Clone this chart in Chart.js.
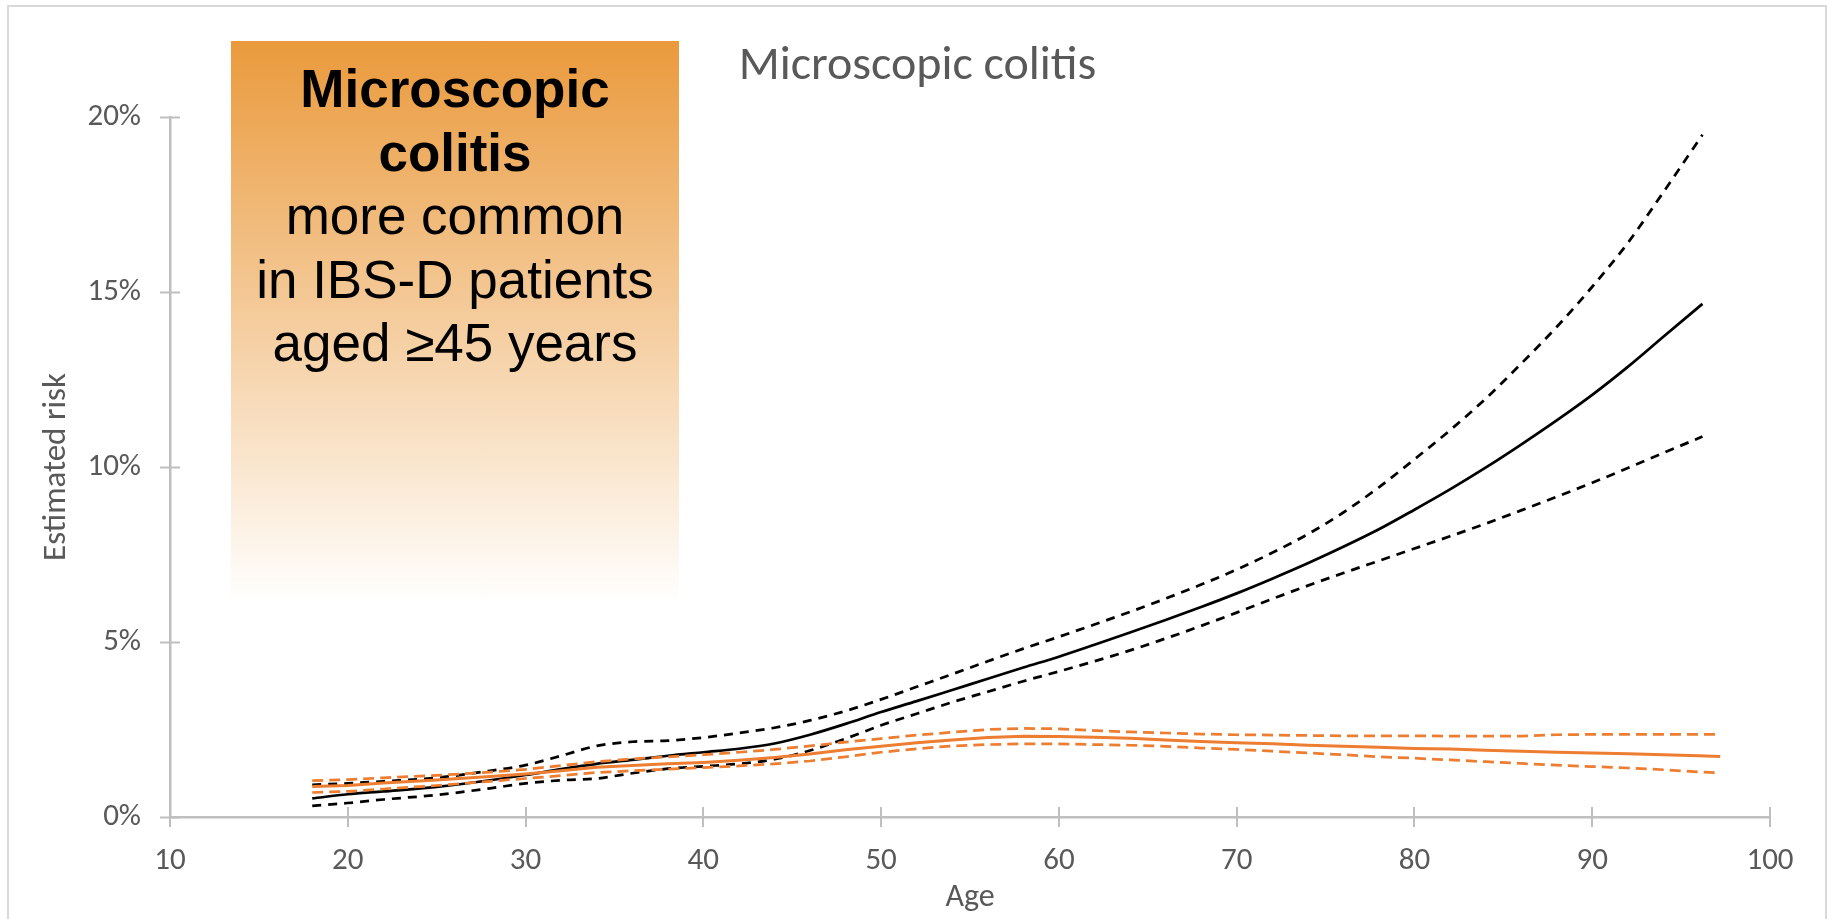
<!DOCTYPE html>
<html>
<head>
<meta charset="utf-8">
<script src="https://cdn.jsdelivr.net/npm/chart.js@4/dist/chart.umd.min.js"></script>
<style>
  html, body { margin: 0; padding: 0; background: #ffffff; }
  #wrap { position: relative; width: 1835px; height: 919px; overflow: hidden; background: #ffffff; }
  #frame { position: absolute; left: 7px; top: 5px; width: 1820px; height: 940px; border: 2px solid #D9D9D9; box-sizing: border-box; }
  #c { position: absolute; left: 0; top: 0; }
  #callout {
    position: absolute; left: 231px; top: 41px; width: 448px; height: 562px;
    background: linear-gradient(to bottom, rgb(234,154,60) 0%, rgba(255,255,255,1) 100%);
    box-sizing: border-box; padding-top: 16px;
    font-family: "Liberation Sans", Arial, sans-serif; font-size: 53px; line-height: 63.5px;
    color: #000000; text-align: center;
  }
  #callout .bold { font-weight: bold; }
</style>
</head>
<body>
<div id="wrap">
  <div id="frame"></div>
  <canvas id="c" width="1835" height="919"></canvas>
  <div id="callout"></div>
</div>
<script>
// Ages at which the IBS-D (black) and control (orange) curves are sampled
const blackAges = [18,20,22,25,28,30,32,34,36,38,40,42,44,46,48,50,52,54,56,58,60,62,64,66,68,70,72,74,76,78,80,82,84,86,88,90,92,94,96.2];
const blackRisk = [0.53,0.65,0.73,0.86,1.05,1.20,1.37,1.52,1.63,1.75,1.85,1.95,2.10,2.35,2.66,3.00,3.31,3.63,3.95,4.27,4.58,4.92,5.27,5.63,6.00,6.39,6.81,7.25,7.72,8.22,8.78,9.36,9.98,10.64,11.33,12.06,12.86,13.72,14.66];
const blackUpper = [0.92,0.96,1.02,1.12,1.32,1.48,1.75,2.03,2.15,2.18,2.27,2.40,2.55,2.76,3.03,3.36,3.72,4.08,4.45,4.81,5.15,5.50,5.86,6.24,6.64,7.07,7.55,8.08,8.70,9.42,10.22,11.05,11.95,12.95,14.00,15.15,16.40,17.85,19.49];
const blackLower = [0.32,0.40,0.50,0.63,0.82,0.96,1.05,1.10,1.25,1.38,1.45,1.52,1.65,1.90,2.24,2.62,2.95,3.28,3.58,3.88,4.16,4.45,4.76,5.10,5.46,5.84,6.23,6.61,6.97,7.32,7.67,8.02,8.38,8.76,9.15,9.55,9.97,10.40,10.87];

const orangeAges = [18,20,22,25,28,30,32,34,36,38,40,42,44,46,48,50,52,54,56,58,60,62,64,66,68,70,72,74,76,78,80,82,84,86,88,90,92,94,96,97.2];
const orangeRisk = [0.87,0.90,0.97,1.06,1.16,1.23,1.32,1.42,1.47,1.52,1.56,1.62,1.70,1.80,1.92,2.02,2.12,2.20,2.27,2.31,2.30,2.28,2.25,2.20,2.16,2.12,2.09,2.05,2.02,1.99,1.96,1.94,1.91,1.88,1.85,1.83,1.81,1.78,1.75,1.73];
const orangeUpper = [1.04,1.07,1.12,1.19,1.28,1.36,1.47,1.58,1.66,1.72,1.78,1.85,1.93,2.03,2.14,2.24,2.34,2.42,2.50,2.53,2.52,2.47,2.43,2.40,2.37,2.35,2.34,2.33,2.32,2.32,2.32,2.31,2.31,2.31,2.35,2.36,2.36,2.36,2.36,2.36];
const orangeLower = [0.70,0.73,0.80,0.90,1.02,1.10,1.18,1.27,1.32,1.37,1.41,1.46,1.52,1.60,1.72,1.85,1.95,2.03,2.07,2.09,2.09,2.07,2.05,2.02,1.97,1.93,1.88,1.83,1.78,1.72,1.68,1.63,1.58,1.53,1.48,1.44,1.40,1.35,1.29,1.26];

// Axis ticks and texts
const xTickValues = [10,20,30,40,50,60,70,80,90,100];
const yTickValues = [0,5,10,15,20];
const chartTitle = 'Microscopic colitis';
const xAxisTitle = 'Age';
const yAxisTitle = 'Estimated risk';
const calloutLines = [
  { text: 'Microscopic', bold: true },
  { text: 'colitis', bold: true },
  { text: 'more common', bold: false },
  { text: 'in IBS-D patients', bold: false },
  { text: 'aged \u226545 years', bold: false }
];

// Callout box text
const callout = document.getElementById('callout');
calloutLines.forEach(l => {
  const d = document.createElement('div');
  d.textContent = l.text;
  if (l.bold) d.className = 'bold';
  callout.appendChild(d);
});

const toPoints = (xs, ys) => xs.map((x, i) => ({ x: x, y: ys[i] }));

const ORANGE = '#ED7D31';
const BLACK = '#000000';
const AXIS_GREY = '#BFBFBF';
const TEXT_GREY = '#595959';
const FONT = "Carlito, Lato, 'Open Sans', sans-serif";

// Tick marks that cross the axis lines
const crossTicks = {
  id: 'crossTicks',
  beforeDatasetsDraw(chart) {
    const { ctx, chartArea, scales: { x, y } } = chart;
    const half = 10;
    ctx.save();
    ctx.strokeStyle = AXIS_GREY;
    ctx.lineWidth = 2;
    ctx.beginPath();
    y.ticks.forEach(t => {
      const py = Math.round(y.getPixelForValue(t.value)) + 0.5;
      ctx.moveTo(chartArea.left - half, py);
      ctx.lineTo(chartArea.left + half, py);
    });
    x.ticks.forEach(t => {
      const px = Math.round(x.getPixelForValue(t.value));
      ctx.moveTo(px, chartArea.bottom - half);
      ctx.lineTo(px, chartArea.bottom + half);
    });
    ctx.stroke();
    ctx.restore();
  }
};

const lineDefaults = { pointRadius: 0, pointHoverRadius: 0, fill: false, borderCapStyle: 'butt' };

new Chart(document.getElementById('c'), {
  type: 'line',
  data: {
    datasets: [
      Object.assign({ label: 'Control', data: toPoints(orangeAges, orangeRisk), borderColor: ORANGE, borderWidth: 3, tension: 0 }, lineDefaults),
      Object.assign({ label: 'Control upper', data: toPoints(orangeAges, orangeUpper), borderColor: ORANGE, borderWidth: 2.75, borderDash: [11, 6], tension: 0 }, lineDefaults),
      Object.assign({ label: 'Control lower', data: toPoints(orangeAges, orangeLower), borderColor: ORANGE, borderWidth: 2.75, borderDash: [11, 6], tension: 0 }, lineDefaults),
      Object.assign({ label: 'IBS-D', data: toPoints(blackAges, blackRisk), borderColor: BLACK, borderWidth: 2.75, cubicInterpolationMode: 'monotone' }, lineDefaults),
      Object.assign({ label: 'IBS-D upper', data: toPoints(blackAges, blackUpper), borderColor: BLACK, borderWidth: 2.75, borderDash: [9, 7], cubicInterpolationMode: 'monotone' }, lineDefaults),
      Object.assign({ label: 'IBS-D lower', data: toPoints(blackAges, blackLower), borderColor: BLACK, borderWidth: 2.75, borderDash: [9, 7], cubicInterpolationMode: 'monotone' }, lineDefaults)
    ]
  },
  options: {
    responsive: false,
    animation: false,
    devicePixelRatio: 1,
    layout: { padding: 0 },
    plugins: {
      legend: { display: false },
      tooltip: { enabled: false },
      title: {
        display: true,
        text: chartTitle,
        color: TEXT_GREY,
        font: { family: FONT, size: 48, weight: 'normal', lineHeight: 1.2 },
        padding: { top: 38, bottom: 21.4 }
      }
    },
    scales: {
      x: {
        type: 'linear',
        min: 10, max: 100,
        afterBuildTicks: s => { s.ticks = xTickValues.map(v => ({ value: v })); },
        afterFit: s => { s.height = 102; s.paddingLeft = 0; s.paddingRight = 0; },
        grid: { display: true, drawOnChartArea: false, drawTicks: false },
        border: { display: true, color: AXIS_GREY, width: 2.5 },
        ticks: { color: TEXT_GREY, font: { family: FONT, size: 31 }, padding: 25.6, maxRotation: 0, autoSkip: false, callback: v => String(v) },
        title: { display: true, text: xAxisTitle, color: TEXT_GREY, font: { family: FONT, size: 32 }, padding: { top: 0, bottom: 2 } }
      },
      y: {
        min: 0, max: 20,
        afterBuildTicks: s => { s.ticks = yTickValues.map(v => ({ value: v })); },
        afterFit: s => { s.width = 170; s.paddingTop = 0; s.paddingBottom = 0; },
        grid: { display: true, drawOnChartArea: false, drawTicks: false },
        border: { display: true, color: AXIS_GREY, width: 2.5 },
        ticks: { color: TEXT_GREY, font: { family: FONT, size: 31 }, padding: 29, callback: v => v + '%' },
        title: { display: true, text: yAxisTitle, color: TEXT_GREY, font: { family: FONT, size: 33 }, padding: { top: 37.4, bottom: 0 } }
      },
      // empty right-hand strip so the plot ends at age 100 well before the edge
      spacer: {
        position: 'right',
        min: 0, max: 20,
        display: true,
        ticks: { display: false },
        grid: { display: false },
        border: { display: false },
        afterFit: s => { s.width = 65; }
      }
    }
  },
  plugins: [crossTicks]
});
</script>
</body>
</html>
